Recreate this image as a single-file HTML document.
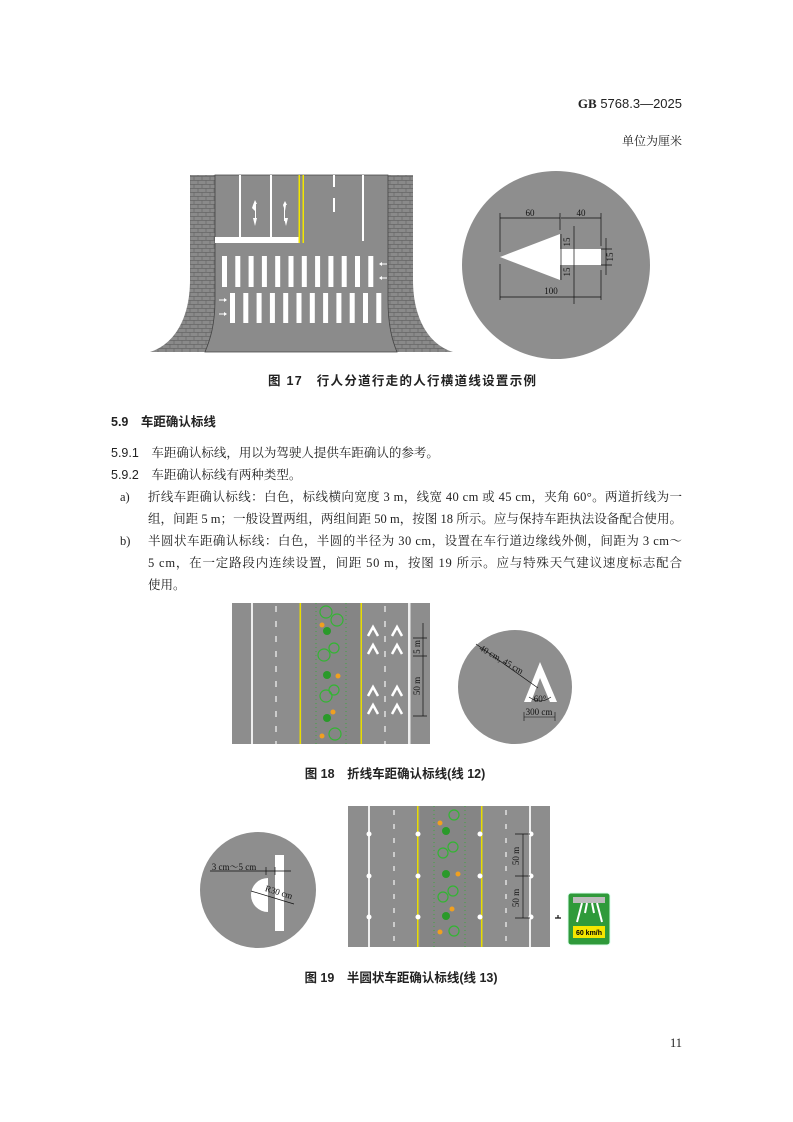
<!DOCTYPE html>
<html><head><meta charset="utf-8"><style>
html,body{margin:0;padding:0;background:#fff;}
svg{display:block}
.s{font-family:"Liberation Serif","Noto Serif CJK SC",serif;fill:#222}
.h{font-family:"Liberation Sans","Noto Sans CJK SC",sans-serif;fill:#222}
.d{font-family:"Liberation Serif","Noto Serif CJK SC",serif;fill:#111;font-size:9px}
</style></head><body>
<svg width="793" height="1122" viewBox="0 0 793 1122" xmlns="http://www.w3.org/2000/svg">
<defs>
<pattern id="brick" width="8" height="8" patternUnits="userSpaceOnUse">
<rect width="8" height="8" fill="#8a8a8a"/>
<path d="M0 0.5H8M0 4.5H8M2 0V4M6 4V8" stroke="#666" stroke-width="0.7"/>
</pattern>
</defs>
<text x="682" y="108" text-anchor="end" class="h" font-size="13"><tspan font-family="Liberation Serif" font-weight="bold">GB</tspan> 5768.3—2025</text>
<text x="682" y="145" text-anchor="end" class="s" font-size="12">单位为厘米</text>

<path d="M190 175H413V280C413 320 430 345 453 352H150C173 345 190 320 190 280Z" fill="url(#brick)"/>
<path d="M215 175H388V300C388 325 392 340 397 352H205C210 340 215 325 215 300Z" fill="#8b8b8b" stroke="#444" stroke-width="0.8"/>
<rect x="215" y="237" width="84" height="6" fill="#fff"/>
<rect x="239" y="175" width="2" height="62" fill="#fff"/>
<rect x="270" y="175" width="2" height="62" fill="#fff"/>
<rect x="298.5" y="175" width="1.5" height="68" fill="#f2e600"/>
<rect x="302.5" y="175" width="1.5" height="68" fill="#f2e600"/>
<rect x="333" y="175" width="2" height="12" fill="#fff"/><rect x="333" y="198" width="2" height="14" fill="#fff"/>
<rect x="362" y="175" width="2" height="66" fill="#fff"/>
<g fill="#fff">
<path d="M255 200l2 4h-1v16h-1v-9l-3 -3 1-3z"/><path d="M253 218h4l-2 8z"/>
<path d="M285 201l2 4h-1l-1 6v10h-1v-13l-1-3 z"/><path d="M284 218h4l-2 8z"/>
</g>
<g fill="#fff">
<rect x="222" y="256" width="5" height="31"/><rect x="235.3" y="256" width="5" height="31"/><rect x="248.6" y="256" width="5" height="31"/><rect x="261.9" y="256" width="5" height="31"/><rect x="275.2" y="256" width="5" height="31"/><rect x="288.5" y="256" width="5" height="31"/><rect x="301.8" y="256" width="5" height="31"/><rect x="315.1" y="256" width="5" height="31"/><rect x="328.4" y="256" width="5" height="31"/><rect x="341.7" y="256" width="5" height="31"/><rect x="355" y="256" width="5" height="31"/><rect x="368.3" y="256" width="5" height="31"/>
<rect x="230" y="293" width="5" height="30"/><rect x="243.3" y="293" width="5" height="30"/><rect x="256.6" y="293" width="5" height="30"/><rect x="269.9" y="293" width="5" height="30"/><rect x="283.2" y="293" width="5" height="30"/><rect x="296.5" y="293" width="5" height="30"/><rect x="309.8" y="293" width="5" height="30"/><rect x="323.1" y="293" width="5" height="30"/><rect x="336.4" y="293" width="5" height="30"/><rect x="349.7" y="293" width="5" height="30"/><rect x="363" y="293" width="5" height="30"/><rect x="376.3" y="293" width="5" height="30"/>
<path d="M379 264l3-2v1.5h5v1h-5v1.5z"/><path d="M379 278l3-2v1.5h5v1h-5v1.5z"/>
<path d="M227 300l-3-2v1.5h-5v1h5v1.5z"/><path d="M227 314l-3-2v1.5h-5v1h5v1.5z"/>
</g>

<circle cx="556" cy="265" r="94" fill="#8e8e8e"/>
<path d="M500 257L560 234V249H601V265H560V280Z" fill="#fff"/>
<g stroke="#111" stroke-width="0.7" fill="none">
<path d="M500 213V252M560 213V230M601 213V246M500 264V300M601 270V300"/>
<path d="M500 218H560M561 218H601M500 297H601M574 226V304M561 234V280M601 249H612M601 265H612M606 238V275"/>
</g>
<text x="530" y="216" class="d" text-anchor="middle">60</text>
<text x="581" y="216" class="d" text-anchor="middle">40</text>
<text x="551" y="294" class="d" text-anchor="middle">100</text>
<text class="d" transform="translate(570 242) rotate(-90)" text-anchor="middle">15</text>
<text class="d" transform="translate(570 272) rotate(-90)" text-anchor="middle">15</text>
<text class="d" transform="translate(613 257) rotate(-90)" text-anchor="middle">15</text>

<text x="402" y="385" text-anchor="middle" class="h" font-size="12.5" font-weight="bold" textLength="268">图 17　行人分道行走的人行横道线设置示例</text>

<text x="111" y="426" class="h" font-size="12.5" font-weight="bold">5.9　车距确认标线</text>
<text x="111" y="457" class="s" font-size="12.5"><tspan class="h">5.9.1</tspan>　车距确认标线，用以为驾驶人提供车距确认的参考。</text>
<text x="111" y="479" class="s" font-size="12.5"><tspan class="h">5.9.2</tspan>　车距确认标线有两种类型。</text>
<text x="120" y="501" class="s" font-size="12.5">a)</text>
<text x="148" y="501" class="s" font-size="12.5" textLength="534" lengthAdjust="spacing">折线车距确认标线：白色，标线横向宽度 3 m，线宽 40 cm 或 45 cm，夹角 60°。两道折线为一</text>
<text x="148" y="523" class="s" font-size="12.5" textLength="534" lengthAdjust="spacing">组，间距 5 m；一般设置两组，两组间距 50 m，按图 18 所示。应与保持车距执法设备配合使用。</text>
<text x="120" y="545" class="s" font-size="12.5">b)</text>
<text x="148" y="545" class="s" font-size="12.5" textLength="534" lengthAdjust="spacing">半圆状车距确认标线：白色，半圆的半径为 30 cm，设置在车行道边缘线外侧，间距为 3 cm～</text>
<text x="148" y="567" class="s" font-size="12.5" textLength="534" lengthAdjust="spacing">5 cm，在一定路段内连续设置，间距 50 m，按图 19 所示。应与特殊天气建议速度标志配合</text>
<text x="148" y="589" class="s" font-size="12.5">使用。</text>

<rect x="232" y="603" width="198" height="141" fill="#8d8d8d"/>
<rect x="302" y="603" width="58" height="141" fill="#858585"/>
<rect x="251" y="603" width="2" height="141" fill="#eee"/>
<rect x="408" y="603" width="2.5" height="141" fill="#eee"/>
<path d="M276 606V744M385 606V744" stroke="#eee" stroke-width="1.3" stroke-dasharray="6 9"/>
<rect x="299.5" y="603" width="1.5" height="141" fill="#e8dc00"/>
<rect x="360.5" y="603" width="1.5" height="141" fill="#e8dc00"/>
<path d="M316 603V744M346 603V744" stroke="#2fae2f" stroke-width="0.8" stroke-dasharray="1 3"/>
<g fill="none" stroke="#33b533" stroke-width="1.2">
<circle cx="326" cy="612" r="6"/><circle cx="337" cy="620" r="6"/><circle cx="324" cy="655" r="6"/><circle cx="334" cy="648" r="5"/><circle cx="326" cy="696" r="6"/><circle cx="334" cy="690" r="5"/><circle cx="335" cy="734" r="6"/>
</g>
<g fill="#2a9a2a"><circle cx="327" cy="631" r="4"/><circle cx="327" cy="675" r="4"/><circle cx="327" cy="718" r="4"/></g>
<g fill="#f0a020"><circle cx="322" cy="625" r="2.5"/><circle cx="338" cy="676" r="2.5"/><circle cx="333" cy="712" r="2.5"/><circle cx="322" cy="736" r="2.5"/></g>
<g fill="none" stroke="#fff" stroke-width="2.5">
<path d="M368 636L373 627L378 636M392 636L397 627L402 636M368 654L373 645L378 654M392 654L397 645L402 654M368 696L373 687L378 696M392 696L397 687L402 696M368 714L373 705L378 714M392 714L397 705L402 714"/>
</g>
<g stroke="#111" stroke-width="0.7"><path d="M423 623V716M413 638H427M413 656H427M413 716H427"/></g>
<text class="d" transform="translate(420 647) rotate(-90)" text-anchor="middle">5 m</text>
<text class="d" transform="translate(420 686) rotate(-90)" text-anchor="middle">50 m</text>

<circle cx="515" cy="687" r="57" fill="#8e8e8e"/>
<path d="M524 702L540 662L557 702H550L540 678L531 702Z" fill="#fff"/>
<path d="M476 644L538 688" stroke="#111" stroke-width="0.7"/>
<text class="d" transform="translate(500 662) rotate(30)" text-anchor="middle" font-size="10">40 cm, 45 cm</text>
<path d="M529 697Q540 705 551 697" fill="none" stroke="#111" stroke-width="0.6"/>
<text x="540" y="702" class="d" text-anchor="middle">60°</text>
<path d="M524 717H555M524 712V721M555 712V721" stroke="#111" stroke-width="0.6"/>
<text x="539" y="715" class="d" text-anchor="middle">300 cm</text>

<text x="395" y="778" text-anchor="middle" class="h" font-size="12.5" font-weight="bold">图 18　折线车距确认标线(线 12)</text>

<circle cx="258" cy="890" r="58" fill="#8e8e8e"/>
<path d="M268 878A17 17 0 0 0 268 912Z" fill="#fff"/>
<rect x="275" y="855" width="9" height="76" fill="#fff"/>
<path d="M210 871H291M266 867V875M275 867V875" stroke="#111" stroke-width="0.7"/>
<text x="234" y="870" class="d" text-anchor="middle" font-size="9.5">3 cm～5 cm</text>
<path d="M251 891L294 904" stroke="#111" stroke-width="0.7"/>
<text class="d" transform="translate(278 895) rotate(17)" text-anchor="middle" font-size="10">R30 cm</text>

<rect x="348" y="806" width="202" height="141" fill="#8d8d8d"/>
<rect x="420" y="806" width="60" height="141" fill="#858585"/>
<rect x="368" y="806" width="2" height="141" fill="#eee"/>
<rect x="529" y="806" width="2" height="141" fill="#eee"/>
<path d="M394 810V947M506 810V947" stroke="#eee" stroke-width="1.3" stroke-dasharray="5 9"/>
<rect x="417" y="806" width="1.5" height="141" fill="#e8dc00"/>
<rect x="481" y="806" width="1.5" height="141" fill="#e8dc00"/>
<path d="M434 806V947M465 806V947" stroke="#2fae2f" stroke-width="0.8" stroke-dasharray="1 3"/>
<g fill="#fff">
<circle cx="369" cy="834" r="2.5"/><circle cx="369" cy="876" r="2.5"/><circle cx="369" cy="917" r="2.5"/>
<circle cx="418" cy="834" r="2.5"/><circle cx="418" cy="876" r="2.5"/><circle cx="418" cy="917" r="2.5"/>
<circle cx="480" cy="834" r="2.5"/><circle cx="480" cy="876" r="2.5"/><circle cx="480" cy="917" r="2.5"/>
<circle cx="531" cy="834" r="2.5"/><circle cx="531" cy="876" r="2.5"/><circle cx="531" cy="917" r="2.5"/>
</g>
<g fill="none" stroke="#33b533" stroke-width="1.2">
<circle cx="454" cy="815" r="5"/><circle cx="443" cy="853" r="5"/><circle cx="453" cy="847" r="5"/><circle cx="443" cy="897" r="5"/><circle cx="453" cy="891" r="5"/><circle cx="454" cy="931" r="5"/>
</g>
<g fill="#2a9a2a"><circle cx="446" cy="831" r="4"/><circle cx="446" cy="874" r="4"/><circle cx="446" cy="916" r="4"/></g>
<g fill="#f0a020"><circle cx="440" cy="823" r="2.5"/><circle cx="458" cy="874" r="2.5"/><circle cx="452" cy="909" r="2.5"/><circle cx="440" cy="932" r="2.5"/></g>
<g stroke="#111" stroke-width="0.7"><path d="M523 834V918M515 834H530M515 876H530M515 918H530"/></g>
<text class="d" transform="translate(519 856) rotate(-90)" text-anchor="middle">50 m</text>
<text class="d" transform="translate(519 898) rotate(-90)" text-anchor="middle">50 m</text>
<path d="M555 918H561M558 915V918" stroke="#111" stroke-width="1.2"/>
<rect x="568" y="893" width="42" height="52" rx="3" fill="#2f9a3a" stroke="#dfe" stroke-width="1"/>
<rect x="573" y="897" width="32" height="6" fill="#bbb"/>
<path d="M582 903L577 922M587 903L585 913M592 903L594 913M597 903L602 922" stroke="#fff" stroke-width="2"/>
<rect x="573" y="926" width="32" height="12" fill="#f4e600"/>
<text x="589" y="935" font-size="7" font-weight="bold" text-anchor="middle" font-family="Liberation Sans">60 km/h</text>

<text x="401" y="982" text-anchor="middle" class="h" font-size="12.5" font-weight="bold">图 19　半圆状车距确认标线(线 13)</text>
<text x="682" y="1047" text-anchor="end" class="s" font-size="12.5">11</text>
</svg>
</body></html>
